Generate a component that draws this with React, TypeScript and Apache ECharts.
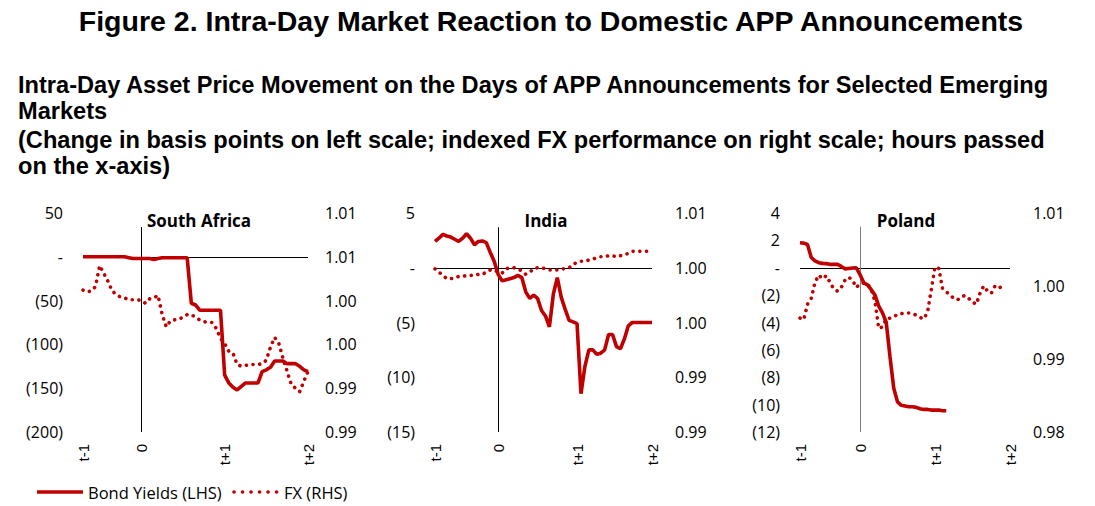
import React, { useEffect, useRef } from 'react';
import * as echarts from 'echarts';

const RED = '#C00000';

const MAIN_TITLE = 'Figure 2. Intra-Day Market Reaction to Domestic APP Announcements';
const SUBTITLE_LINES = [
  'Intra-Day Asset Price Movement on the Days of APP Announcements for Selected Emerging',
  'Markets',
  '(Change in basis points on left scale; indexed FX performance on right scale; hours passed',
  'on the x-axis)',
];
const SERIES_NAMES = ['Bond Yields (LHS)', 'FX (RHS)'];
const X_TICK_LABELS = ['t-1', '0', 't+1', 't+2'];

// South Africa
const SA_TICK_POS = [0, 14, 34, 54];
const SA_BOND = [0, 0, 0, 0, 0, 0, 0, 0, 0, 0, 0, -1, -2, -2, -2, -2, -2, -3, -2, -1, -1, -1, -1, -1, -1, -1, -53, -55, -61, -61, -61, -61, -61, -61, -135, -144, -149, -152, -148, -144, -144, -144, -144, -131, -129, -126, -119, -119, -119, -122, -122, -122, -125, -129, -131];
const SA_FX = [1.0012, 1.0010, 1.0011, 1.0016, 1.0040, 1.0031, 1.0022, 1.0011, 1.0007, 1.0004, 1.0003, 1.0001, 1.0001, 1.0001, 1.0000, 0.9997, 1.0002, 1.0003, 1.0006, 0.9984, 0.9970, 0.9977, 0.9978, 0.9979, 0.9981, 0.9984, 0.9984, 0.9981, 0.9978, 0.9976, 0.9975, 0.9975, 0.9968, 0.9957, 0.9951, 0.9942, 0.9940, 0.9927, 0.9925, 0.9926, 0.9927, 0.9927, 0.9927, 0.9928, 0.9932, 0.9947, 0.9958, 0.9951, 0.9934, 0.9919, 0.9904, 0.9900, 0.9896, 0.9908, 0.9919];
const SA_LEFT_LABELS = ['(200)', '(150)', '(100)', '(50)', '-', '50'];
const SA_RIGHT_LABELS = ['0.99', '0.99', '1.00', '1.00', '1.01', '1.01'];

// India
const IN_TICK_POS = [0, 16, 36, 55];
const IN_BOND = [2.4, 2.7, 3.05, 2.9, 2.8, 2.6, 2.4, 2.7, 3.1, 2.7, 2.1, 2.4, 2.45, 2.3, 1.4, 0.6, -0.6, -1.2, -1.1, -1.0, -0.9, -0.7, -0.9, -2.2, -2.8, -2.5, -2.8, -3.9, -4.4, -5.4, -2.4, -0.9, -2.7, -3.8, -4.8, -4.95, -5.1, -11.5, -9.0, -7.5, -7.5, -7.9, -7.8, -7.5, -6.1, -6.1, -7.2, -7.4, -6.5, -5.3, -5.0, -5.0, -5.0, -5.0, -5.0, -5.0];
const IN_FX = [0.9999, 0.9996, 0.9993, 0.9990, 0.9990, 0.9991, 0.9992, 0.9992, 0.9993, 0.9993, 0.9993, 0.9994, 0.9994, 0.9996, 0.9998, 0.9998, 0.9996, 0.9995, 0.9999, 1.0000, 1.0000, 0.9999, 0.9997, 0.9994, 0.9996, 0.9999, 1.0000, 1.0000, 0.9999, 0.9998, 0.9998, 0.9998, 0.9999, 0.9999, 1.0000, 1.0003, 1.0005, 1.0006, 1.0006, 1.0007, 1.0008, 1.0009, 1.0010, 1.0010, 1.0011, 1.0011, 1.0010, 1.0011, 1.0012, 1.0013, 1.0015, 1.0015, 1.0015, 1.0015, 1.0015, 1.0015];
const IN_LEFT_LABELS = ['(15)', '(10)', '(5)', '-', '5'];
const IN_RIGHT_LABELS = ['0.99', '0.99', '1.00', '1.00', '1.01'];

// Poland
const PL_TICK_POS = [0, 16, 36, 56];
const PL_BOND = [1.83, 1.8, 1.7, 0.75, 0.5, 0.37, 0.32, 0.3, 0.25, 0.25, 0.25, 0.1, -0.08, -0.05, -0.02, 0.0, -0.5, -1.1, -1.25, -1.6, -2.0, -2.8, -3.3, -4.0, -6.5, -8.8, -9.8, -10.05, -10.1, -10.15, -10.15, -10.2, -10.3, -10.35, -10.35, -10.4, -10.4, -10.4, -10.45, -10.45, null, null, null, null, null, null, null, null, null, null, null, null, null, null, null, null, null];
const PL_FX = [0.9956, 0.9954, 0.9975, 0.9983, 1.0005, 1.0015, 1.0010, 1.0014, 1.0005, 0.9996, 0.9993, 0.9998, 1.0008, 1.0012, 1.0008, 0.9998, 1.0003, 1.0004, 1.0003, 0.9995, 0.9979, 0.9942, 0.9944, 0.9955, 0.9956, 0.9958, 0.9961, 0.9962, 0.9963, 0.9963, 0.9962, 0.9960, 0.9957, 0.9955, 0.9964, 0.9995, 1.0026, 1.0024, 0.9997, 0.9992, 0.9988, 0.9983, 0.9981, 0.9985, 0.9987, 0.9983, 0.9978, 0.9975, 0.9990, 1.0000, 0.9993, 0.9990, 1.0000, 0.9997, 1.0000, 1.0001, null];
const PL_LEFT_LABELS = ['(12)', '(10)', '(8)', '(6)', '(4)', '(2)', '-', '2', '4'];
const PL_RIGHT_LABELS = ['0.98', '0.99', '1.00', '1.01'];

const PANELS = [
  {
    name: 'South Africa', bond: SA_BOND, fx: SA_FX, ticks: SA_TICK_POS,
    left: { min: -200, max: 50, interval: 50, labels: SA_LEFT_LABELS },
    right: { min: 0.985, max: 1.01, interval: 0.005, labels: SA_RIGHT_LABELS },
    vTop: 34, grid: { left: 83, width: 225 }, rightMargin: 17, vColor: '#000', titleX: 199,
  },
  {
    name: 'India', bond: IN_BOND, fx: IN_FX, ticks: IN_TICK_POS,
    left: { min: -15, max: 5, interval: 5, labels: IN_LEFT_LABELS },
    right: { min: 0.985, max: 1.005, interval: 0.005, labels: IN_RIGHT_LABELS },
    vTop: 3.7, grid: { left: 435, width: 217 }, rightMargin: 23, vColor: '#000', titleX: 546,
  },
  {
    name: 'Poland', bond: PL_BOND, fx: PL_FX, ticks: PL_TICK_POS,
    left: { min: -12, max: 4, interval: 2, labels: PL_LEFT_LABELS },
    right: { min: 0.98, max: 1.01, interval: 0.01, labels: PL_RIGHT_LABELS },
    vTop: 3, grid: { left: 800, width: 210 }, rightMargin: 23, vColor: '#7f7f7f', titleX: 906,
  },
];

const AXIS_FONT = "'Open Sans', 'Noto Sans', sans-serif";
const ARIAL = "'Liberation Sans', Arial, sans-serif";
const DOTS = [0.1, 6.6];

function labelFmt(labels: string[], min: number, interval: number) {
  return (v: number) => {
    const k = Math.round((v - min) / interval);
    return labels[k] ?? '';
  };
}

function buildOption() {
  const grid: any[] = [];
  const xAxis: any[] = [];
  const yAxis: any[] = [];
  const series: any[] = [];
  const graphic: any[] = [];

  graphic.push({
    type: 'text', x: 551, y: 21,
    style: { text: MAIN_TITLE, font: `bold 28.5px ${ARIAL}`, fill: '#000', align: 'center', verticalAlign: 'middle' },
  });
  const subY = [85, 111, 140, 166];
  SUBTITLE_LINES.forEach((t, i) => {
    graphic.push({
      type: 'text', x: 18, y: subY[i],
      style: { text: t, font: `bold 23.6px ${ARIAL}`, fill: '#000', align: 'left', verticalAlign: 'middle' },
    });
  });

  // legend (drawn as plain graphics to match the line samples exactly)
  graphic.push({
    type: 'line', shape: { x1: 37, y1: 492, x2: 83, y2: 492 },
    style: { stroke: RED, lineWidth: 3.5 },
  });
  graphic.push({
    type: 'text', x: 88, y: 492,
    style: { text: SERIES_NAMES[0], font: `16.5px ${AXIS_FONT}`, fill: '#000', align: 'left', verticalAlign: 'middle' },
  });
  graphic.push({
    type: 'line', shape: { x1: 234, y1: 492, x2: 277, y2: 492 },
    style: { stroke: RED, lineWidth: 3.6, lineDash: [0.1, 8.4], lineCap: 'round' },
  });
  graphic.push({
    type: 'text', x: 284, y: 492,
    style: { text: SERIES_NAMES[1], font: `16.5px ${AXIS_FONT}`, fill: '#000', align: 'left', verticalAlign: 'middle' },
  });

  PANELS.forEach((p, gi) => {
    grid.push({ left: p.grid.left, width: p.grid.width, top: 213, height: 219, containLabel: false });
    const n = p.bond.length;
    const cats = Array.from({ length: n }, (_, i) => String(i));
    const tickMap: Record<number, string> = {};
    p.ticks.forEach((pos, k) => { tickMap[pos] = X_TICK_LABELS[k]; });
    xAxis.push({
      type: 'category', gridIndex: gi, data: cats, boundaryGap: false,
      axisLine: { show: false }, axisTick: { show: false }, splitLine: { show: false },
      axisLabel: {
        rotate: 90, margin: 12, interval: (idx: number) => tickMap[idx] !== undefined,
        formatter: (_v: string, idx: number) => tickMap[idx] ?? '',
        fontSize: 15, fontFamily: ARIAL, color: '#000',
      },
    });
    yAxis.push({
      type: 'value', gridIndex: gi, position: 'left', min: p.left.min, max: p.left.max, interval: p.left.interval,
      axisLine: { show: false }, axisTick: { show: false }, splitLine: { show: false },
      axisLabel: { margin: 20, fontSize: 16, fontFamily: AXIS_FONT, color: '#000', formatter: labelFmt(p.left.labels, p.left.min, p.left.interval) },
    });
    yAxis.push({
      type: 'value', gridIndex: gi, position: 'right', min: p.right.min, max: p.right.max, interval: p.right.interval,
      axisLine: { show: false }, axisTick: { show: false }, splitLine: { show: false },
      axisLabel: { margin: p.rightMargin, fontSize: 16, fontFamily: AXIS_FONT, color: '#000', formatter: labelFmt(p.right.labels, p.right.min, p.right.interval) },
    });
    const zeroIdx = p.ticks[1];
    series.push({
      type: 'line', name: SERIES_NAMES[0], xAxisIndex: gi, yAxisIndex: gi * 2, data: p.bond,
      symbol: 'none', connectNulls: false, z: 3,
      lineStyle: { color: RED, width: 3.6 }, itemStyle: { color: RED },
      markLine: {
        silent: true, symbol: 'none', z: 1, animation: false,
        label: { show: false },
        lineStyle: { color: '#000', width: 1, type: 'solid' },
        emphasis: { disabled: true },
        data: [
          { yAxis: 0, lineStyle: { color: '#000', width: 1, type: 'solid' } },
          [
            { coord: [zeroIdx, p.vTop], lineStyle: { color: p.vColor, width: 1, type: 'solid' } },
            { coord: [zeroIdx, p.left.min] },
          ],
        ],
      },
    });
    series.push({
      type: 'line', name: SERIES_NAMES[1], xAxisIndex: gi, yAxisIndex: gi * 2 + 1, data: p.fx,
      symbol: 'none', z: 3,
      lineStyle: { color: RED, width: 3.6, type: DOTS, cap: 'round' }, itemStyle: { color: RED },
    });
    graphic.push({
      type: 'text', x: p.titleX, y: 220,
      style: { text: p.name, font: `bold 17px ${AXIS_FONT}`, fill: '#000', align: 'center', verticalAlign: 'middle' },
    });
  });

  return {
    animation: false,
    backgroundColor: '#fff',
    grid, xAxis, yAxis, series, graphic,
  };
}

export default function App() {
  const ref = useRef<HTMLDivElement>(null);
  useEffect(() => {
    if (!ref.current) return;
    const chart = echarts.init(ref.current, undefined, { renderer: 'svg' });
    chart.setOption(buildOption() as any);
    return () => chart.dispose();
  }, []);
  return (
    <div
      ref={ref}
      style={{ position: 'fixed', left: 0, top: 0, width: 1095, height: 506, background: '#fff' }}
    />
  );
}
